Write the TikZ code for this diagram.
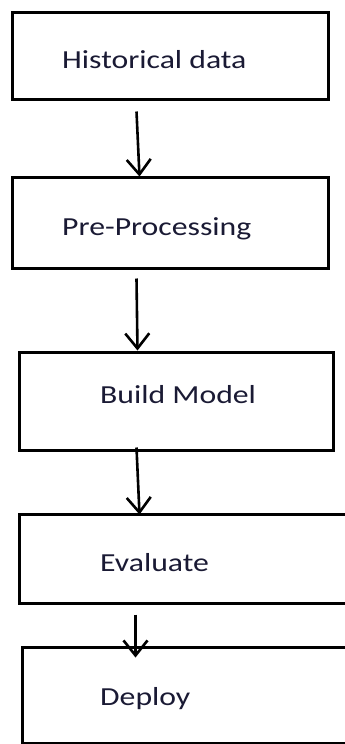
\documentclass[tikz,border=0pt]{standalone}
\usepackage{fontspec}
\setmainfont{Carlito}
\usetikzlibrary{arrows.meta,calc}
\definecolor{txt}{HTML}{1A1A34}
\begin{document}
\begin{tikzpicture}[x=1pt,y=-1pt,
  box/.style={draw=black,line width=3pt,rectangle,inner sep=0pt},
  lbl/.style={anchor=base west,inner sep=0pt,text=txt,font=\fontsize{26}{30}\selectfont},
  conn/.style={line width=2.6pt,-{Straight Barb[length=15pt,width=24pt,line width=2.6pt]}}]
\useasboundingbox (0,0) rectangle (345,744);
\clip (0,0) rectangle (345,744);
\fill[white] (0,0) rectangle (345,744);
% boxes
\node[box,minimum width=316pt,minimum height=87pt] (b1) at (170,55.5) {};
\node[box,minimum width=316pt,minimum height=91pt] (b2) at (170,222.5) {};
\node[box,minimum width=314pt,minimum height=98pt] (b3) at (176,401) {};
\node[box,minimum width=341pt,minimum height=89pt] (b4) at (189.5,558.5) {};
\node[box,minimum width=338pt,minimum height=96pt] (b5) at (191,695) {};
% labels
\node[lbl] (t1) at (62,68) {\scalebox{1.22}[1]{Historical data}};
\node[lbl] (t2) at (62,235.5) {\scalebox{1.22}[1]{Pre-Processing}};
\node[lbl] (t3) at (100,403) {\scalebox{1.22}[1]{Build Model}};
\node[lbl] (t4) at (100,571) {\scalebox{1.22}[1]{Evaluate}};
\node[lbl] (t5) at (100,705) {\scalebox{1.22}[1]{Deploy}};
% arrow endpoints
\coordinate (a1s) at ($(b1.south west)+(126,11)$);
\coordinate (a1e) at ($(b2.north west)+(129,1)$);
\coordinate (a2s) at ($(b2.south west)+(126,9)$);
\coordinate (a2e) at ($(b3.north west)+(120,0)$);
\coordinate (a3s) at ($(b3.south west)+(119,-4)$);
\coordinate (a3e) at ($(b4.north west)+(122,2)$);
\coordinate (a4s) at ($(b4.south west)+(118,10)$);
\coordinate (a4e) at ($(b5.north west)+(115,12)$);
\draw[conn] (a1s) -- (a1e);
\draw[conn] (a2s) -- (a2e);
\draw[conn] (a3s) -- (a3e);
\draw[conn] (a4s) -- (a4e);
\end{tikzpicture}
\end{document}
